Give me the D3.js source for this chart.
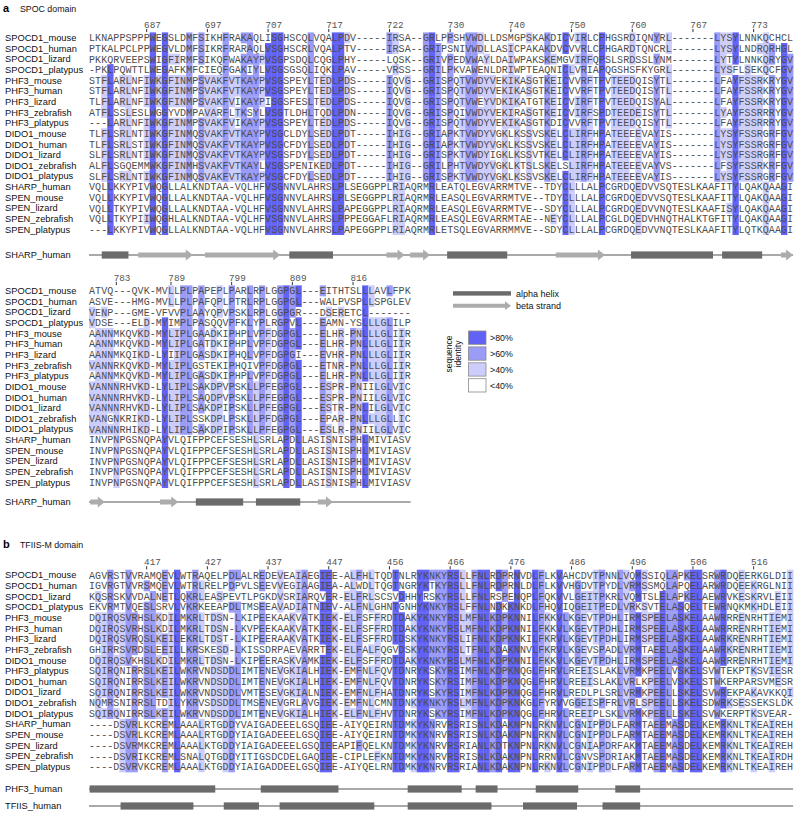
<!DOCTYPE html>
<html><head><meta charset="utf-8">
<script src="https://cdn.jsdelivr.net/npm/d3@7"></script>
<style>body{margin:0;background:#fff}</style>
</head><body>
<svg id="chart" width="800" height="815"></svg>
<script>
// ---------------- DATA ----------------
const namesA = ["SPOCD1_mouse","SPOCD1_human","SPOCD1_lizard","SPOCD1_platypus","PHF3_mouse","PHF3_human","PHF3_lizard","PHF3_zebrafish","PHF3_platypus","DIDO1_mouse","DIDO1_human","DIDO1_lizard","DIDO1_zebrafish","DIDO1_platypus","SHARP_human","SPEN_mouse","SPEN_lizard","SPEN_zebrafish","SPEN_platypus"];
const namesB = ["SPOCD1_mouse","SPOCD1_human","SPOCD1_lizard","SPOCD1_platypus","PHF3_mouse","PHF3_human","PHF3_lizard","PHF3_zebrafish","DIDO1_mouse","PHF3_platypus","DIDO1_human","DIDO1_lizard","DIDO1_zebrafish","DIDO1_platypus","SHARP_human","SPEN_mouse","SPEN_lizard","SPEN_zebrafish","SPEN_platypus"];

const seqA1 = [
"LKNAPPSPPPWEGSLDMFSIKHFRAKAQLI"+"SGHSCQLVQALPDV-----IRSA--GRLPPSHVWDLLDSMGPS"+"KAKDICVIRLCPHGSRDIQNYRL-------LYSYLNNKQCHCL",
"PTKALPCLPPWEGVLDMFSIKRFRARAQLV"+"SGHSCRLVQALPTV-----IRSA--GRIPSNIVWDLLASICPA"+"KAKDVCVVRLCPHGARDTQNCRL-------LYSYLNDRQRHGL",
"PKKQRVEEPSWIGFIRMFSIKQFWAKAYPV"+"SGPSDQLCQGLPHY-----LQSK--GRIVPEDVWAYLDAIWPA"+"KSKEMGVIRFQPSLSRDSSLYNM-------LYTYLNNKQRYGV",
"-PKLPQWTTLWEGAFKMFCIEQFGAKIYLV"+"SGSGSQLIQKLPAV-----VRSS--GRILPKVAWENLDRIWPT"+"EAQNICLVRIAPQGSHSFKYGRL-------LYSFLSEKQCFGV",
"STFLARLNFIWKGFINMPSVAKFVTKAYPV"+"SGSPEYLTEDLPDS-----IQVG--GRISPQTVWDYVEKIKAS"+"GTKEICVVRFTPVTEEDQISYTL-------LFAYFSSRKRYGV",
"STFLARLNFIWKGFINMPSVAKFVTKAYPV"+"SGSPEYLTEDLPDS-----IQVG--GRISPQTVWDYVEKIKAS"+"GTKEICVVRFTPVTEEDQISYTL-------LFAYFSSRKRYGV",
"TLFLARLNFIWKGFINMPSVAKFVIKAYPI"+"SGSFESLTEDLPDS-----IQVG--GRISPQTVWEYVDKIKAT"+"GTKEICVIRFTPVTEEDQISYAL-------LFAYFSSRKRYGV",
"ATFLSSLESLWGGYVDMPAVARFLTKSYLV"+"SGTLDHLTQDLPDN-----IQVG--GRISPQIVWDYVEKIRAS"+"GTKEICVIRFSPDTEEDEISYTL-------LYAYFSSRRRYGV",
"---LARLNFIWKGFINMPSVAKFVIKAYPV"+"SGSPEYLTEDLPDS-----IQVG--GRISPQTVWDYVEKIKAS"+"GTKDICVVRFTPVTEEDQISYTL-------LFAYFSSRRRYGV",
"TLFLSRLNTIWKGFINMQSVAKFVTKAYPV"+"SGCLDYLSEDLPDT-----IHIG--GRIAPKTVWDYVGKLKSS"+"VSKELCLIRFHPATEEEEVAYIS-------LYSYFSSRGRFGV",
"TLFLSRLSTIWKGFINMQSVAKFVTKAYPV"+"SGCFDYLSEDLPDT-----IHIG--GRIAPKTVWDYVGKLKSS"+"VSKELCLIRFHPATEEEEVAYIS-------LYSYFSSRGRFGV",
"SLFLSRLNTIWKGFINMQSVAKFVTKAYPV"+"SGSFDYLSEDLPDT-----IHIG--GRISPKTVWDYIGKLKSS"+"VTKELCLIRFHPATEEEEVAYIS-------LYSYFSSRGRFGV",
"ALFLSGQEMMWKGFINMHSVAKFVTKAYLV"+"SGSPENIKEDLPDT-----IHIG--GRILPHTVWDYVGKLKTS"+"LSKELSLIRFHPATEEEEVAYVS-------LFSYFSSRKRFGV",
"SLFLSRLNTIWKGFINMQSVAKFVTKAYPV"+"SGCFDYLSEDLPDT-----IHIG--GRISPKTVWDYVGKLKSS"+"VSKELCLIRFHPATEEEEVAYIS-------LYSYFSSRGRFGV",
"VQLLKKYPIVWQGLLALKNDTAA-VQLHFV"+"SGNNVLAHRSLPLSEGGPPLRIAQRMRLEATQLEGVARRMTVE"+"--TDYCLLLALPCGRDQEDVVSQTESLKAAFITYLQAKQAAGI",
"VQLLKKYPIVWQGLLALKNDTAA-VQLHFV"+"SGNNVLAHRSLPLSEGGPPLRIAQRMRLEASQLEGVARRMTVE"+"--TDYCLLLALPCGRDQEDVVSQTESLKAAFITYLQAKQAAGI",
"VQLLTKYPIVWQGLLALKNDTAA-VQLHFV"+"SGNNVLAHRSLPAPEGGPPLRIAQRMRLEASQLEGVARRMTVE"+"--SDYCLLLALPCGRDQEDVVNQTESLKAAFISYLQAKQAAGI",
"VQLLTKYPIIWQGHLALKNDTAA-VQLHFV"+"SGNNVLAHRSLPPPEGGAFLRIAQRMRLEASQLEGVARRMTAE"+"--NEYCLLLALPCGLDQEDVHNQTHALKTGFITYLQAKQAAGI",
"---LKKYPIVWQGLLALKNDTAA-VQLHFV"+"SGNNVLAHRSLPAPEGGPPLRIAQRMRLETSQLEGVARRMMVE"+"--SDYCLLLALPCGRDQEDVVNQTESLKAAFITYLQTKQAAGI"
];

const seqA2 = [
"ATVQ---QVK-MVLLPLPAPEPLPARLRPL"+"GGPGL---EITHTSLLLAVLFPK",
"ASVE---HMG-MVLLPLPAFQPLPTRLRPL"+"GGPGL---WALPVSPLLSPGLEV",
"VENP---GME-VFVVPLAAYQPVPSKLRPL"+"GGPGR---DSERETCL-------",
"VDSE---ELD-MYIMPLPASQQVPFKLYPL"+"RGPVL---EAMN-YSLLLGLILP",
"AANNMKQVKD-MYLIPLGAADKIPHPLVPF"+"DGPGL---ELHR-PNLLLGLIIR",
"AANNMKQVKD-MYLIPLGATDKIPHPLVPF"+"DGPGL---ELHR-PNLLLGLIIR",
"AANNMKQIKD-LYIIPLGASDKIPHQLVPF"+"DGPGI---EVHR-PNLLLGLIIR",
"VANNRKQVKD-MYLIPLGSTEKIPHQIVPF"+"DGPGL---ETNR-PNLLLGLIIR",
"AANNMKQVKD-MYLIPLGASDKIPHPLVPF"+"DGPGL---ELHR-PNLLLGLIIR",
"VANNNRHVKD-LYLIPLSAKDPVPSKLLPF"+"EGPGL---ESPR-PNIILGLVIC",
"VANNNRHVKD-LYLIPLSAQDPVPSKLLPF"+"EGPGL---ESPR-PNIILGLVIC",
"VANNNRHVKD-LYLIPLSAKDPIPSKLLPF"+"EGPGL---ESTR-PNLILGLVIC",
"VANGNKRIKD-LYLIPLSSKDPLPSKLLPF"+"DGPGL---EPAR-PNLLLGLLIC",
"VANNNRHIKD-LYLIPLSAKDPIPSKLLPF"+"EGPGL---ESLR-PNIILGLVIC",
"INVPNPGSNQPAYVLQIFPPCEFSESHLSRLAPDLLASISNISPHLMIVIASV",
"INVPNPGSNQPAYVLQIFPPCEFSESHLSRLAPDLLASISNISPHLMIVIASV",
"INVPNPGSNQPAYVLQIFPPCEFSESHLSRLAPDLLASISNISPHLMIVIASV",
"INVPNPGSNQPAYVLQIFPPCEFSESHLSRLAPDLLASISNISPHLMIVIASV",
"INVPNPGSNQPAYVLQIFPPCEFSESHLSRLAPDLLASISNISPHLMIVIASV"
];

const seqB = [
"AGVRSTVVRAMQEVLWTRAQELPDLALRED"+"EVEAIAEGIEE-ALFHLTQDTNLRYKNKYRSLLFNLRDPRNVD"+"LFLKVAHCDVTPNNLVQMSSIQLAPKELSRWRDQEERKGLDII",
"IGVRGTVVRSMQEVLWTRLRELPDPVLSEE"+"VVEGIAAGIEA-ALWDLTQGTNGRYKTKYRSLLFNLRDPRNLD"+"LFLKVVHGDVTPYDLVRMSSMQLAPQELARWRDQEEKRGLNII",
"KQSRSKVVDALNETLQKRLEASPEVTLPGK"+"DVSRIARQVER-ELFRLSCSVDHHYRSKYRSLLFNLRSPENQP"+"LFQKVVLGEITPKRLVQMTSLELAPKELAEWRVKESKRVLEII",
"EKVRMTVQESLSRVLVKRKEEAPDLTMSEE"+"AVADIATNIEV-ALFNLGHNTGNHYKNKYRSLFFNLNDKKNKD"+"LFHQVIQGEITPEDLVRKSVTELASQELTEWRNQKMKHDLEII",
"DQIRQSVRHSLKDILMKRLTDSN-LKIPEE"+"KAAKVATKIEK-ELFSFFRDTDAKYKNKYRSLMFNLKDPKNNI"+"LFKKVLKGEVTPDHLIRMSPEELASKELAAWRRRENRHTIEMI",
"DQIRQSVRHSLKDILMKRLTDSN-LKVPEE"+"KAAKVATKIEK-ELFSFFRDTDAKYKNKYRSLMFNLKDPKNNI"+"LFKKVLKGEVTPDHLIRMSPEELASKELAAWRRRENRHTIEMI",
"DQIRQSVRQSLKEILEKRLTDST-LKIPEE"+"RAAKVATKIEK-ELFSFFRDTDSKYKNKYRSLIFNLKDPKNKI"+"LFKRVLKGEVTPDHLIRMSPEELASKELAAWRKRENRHTIEMI",
"GHIRRSVRDSLEEILLKRSKESD-LKISSD"+"RPAEVARRTEK-ELFALFQGVDSKYKNKYRSLTFNLKDAKNNV"+"LFKRVLKGEVSPADLVRMTAEELASKELAAWRKRENRHTIEMI",
"DQIRQSVKHSLKDILMKRLTDSN-LKIPEE"+"RASKVAMKIEK-ELFSFFRDTDAKYKNKYRSLMFNLKDPKNNI"+"LFKKVLKGEVTPDHLIRMSPEELASKELAAWRRRENRHTIEMI",
"SQIRQNIRRSLKEILWKRVNDSDDLIMTENEVGKIALHIEK-EMFNLFQVTDNRYKSKYRSIMFNLKDPKNQGLFHRVLREEISLAKLVRMKPEELVSKELSVWTEKPTKSVIESR",
"SQIRQNIRRSLKEILWKRVNDSDDLIMTENEVGKIALHIEK-EMFNLFQVTDNRYKSKYRSIMFNLKDPKNQGLFHRVLREEISLAKLVRLKPEELVSKELSTWKERPARSVMESR",
"SQIRQNIRRSLKEILWKRVNDSDDLVMTESEVGKIALNIEK-EMFNLFHATDNRYKSKYRSIMFNLKDPKNQGLFHRVLREDLPLSRLVRMKPEELLSKELSVWREKPAKAVKKQI",
"NQMRSNIRRSLTDILYKRVSDSDDLTMSENEVGRLAVGIEK-EMFNLCMNTDNKYKNKYRSLMFNLKDPKNKGLFYRVVGGEISPFRLVRLSPEELLSKELSDWRKSESSEKSLDK",
"SQIRQNIRRSLKEILWKRVNDSDDLIMTENEVGKIALHIEK-ELFNLFHVTDNRYKSKYRSIMFNLKDPKNQGLFHRVLREEIPLSKLVRMKPEELLSKELSVWKERPTKSVEAR-",
"----DSVRLKCREMLAAALRTGDDYVAIGADEEELGSQIEE-AIYQEIRNTDMKYKNRVRSRISNLKDAKNPNLRKNVLCGNIPPDLFARMTAEEMASDELKEMRKNLTKEAIREH",
"----DSVRLKCREMLAAALRTGDDYIAIGADEEELGSQIEE-AIYQEIRNTDMKYKNRVRSRISNLKDAKNPNLRKNVLCGNIPPDLFARMTAEEMASDELKEMRKNLTKEAIREH",
"----DSVRMKCREMLAAALKTGDDYIAIGADEEELGSQIEEAPIFQELKNTDMKYKNRVRSRIANLKDTKNPNLRKNVLCGNIAPDRFAKMTAEEMASDELKEMRKNLTKEAIREH",
"----DSVRIKCREMLSNALQTGDDYITIGSDCDELGAQIEE-CIPLEFKNTDMKYKNRVRSRISNLKDAKNPNLRRNVLCGNVSPDRIAKMTAEEMASDELKEMRKNLTKEAIRDH",
"----DSVRVKCREMLAAALKTGDDYIAIGADDEELGSQIEE-AIYQELRNTDMKYKNRVRSRIANLKDAKNPNLRKNVLCGNIPPDLFARMTAEEMASDELKEMRKNLTKEAIREH"
];

const ticksA1 = ["687","697","707","717","722","730","740","750","760","767","773"];
const tickColsA1 = [9,19,29,39,49,59,69,79,89,99,109];
const ticksA2 = ["783","789","799","809","816"];
const tickColsA2 = [4,13,23,33,43];
const ticksB = ["417","427","437","447","456","466","476","486","496","506","516"];
const tickColsB = [9,19,29,39,49,59,69,79,89,99,109];

// secondary structure: [start column, end column, type] H = alpha helix, E = beta strand
const ssA1 = [[2.1,6.5,"H"],[8.1,17.1,"E"],[19.1,31.5,"E"],[33,40.2,"H"],[49,52,"E"],[52.9,56.2,"E"],[59,68.9,"H"],[76.9,85,"E"],[89.3,102.8,"H"],[104.3,110.9,"H"],[114,116,"E"]];
const ssA2 = [[0.2,2.6,"E"],[11.7,14.7,"E"],[17.6,25.4,"H"],[27.5,34.8,"H"],[37.7,40.2,"E"]];
const ssB_PHF3 = [[0.1,20.8,"H"],[28.3,41.1,"H"],[52.5,61.4,"H"],[63.7,67.3,"H"],[73.6,80.6,"H"],[86.7,90.8,"H"]];
const ssB_TFIIS = [[5.2,17.2,"H"],[22.2,28,"H"],[31.4,47,"H"],[52.5,66.3,"H"],[71.5,80.4,"H"],[84.6,90.8,"H"]];

const identityLabels = [">80%",">60%",">40%","<40%"];
const identityColors = ["#6262f6","#9b9bf8","#cdcdfb","#ffffff"];

// ---------------- DRAW ----------------
const svg = d3.select("#chart");
const cw = 6.07, x0 = 89, pitch = 10.65;
const x = d3.scaleLinear().domain([0,116]).range([x0, x0 + 116*cw]);
const level = p => p > 80 ? 0 : p > 60 ? 1 : p > 40 ? 2 : 3;

function identity(seqs){
  const N = seqs.length, L = d3.max(seqs, s => s.length);
  const out = [];
  for (let c = 0; c < L; c++){
    const counts = d3.rollup(seqs.map(s => s[c]).filter(ch => ch && ch !== "-"), v => v.length, d => d);
    const m = d3.max(Array.from(counts.values())) || 0;
    out.push({counts, m, lev: level(100*m/N)});
  }
  return out;
}

function drawBlock(names, seqs, y0, ticks, tickCols){
  const g = svg.append("g");
  const cols = identity(seqs);
  const yc = i => y0 + i*pitch;
  // tick labels
  ticks.forEach((t,i)=>{
    const cx = x(tickCols[i]+0.5);
    g.append("text").attr("x", cx-2.6).attr("y", y0-9.6).text(t)
      .attr("font-family","Liberation Mono, DejaVu Sans Mono, monospace").attr("font-size",9.3).attr("fill","#555");
    g.append("line").attr("x1",cx).attr("x2",cx).attr("y1",y0-8.8).attr("y2",y0-5.6)
      .attr("stroke","#333").attr("stroke-width",1);
  });
  seqs.forEach((s,r)=>{
    g.append("text").attr("x",5).attr("y",yc(r)+3.3).text(names[r])
      .attr("font-family","Liberation Sans, Arial, sans-serif").attr("font-size",9.3).attr("fill","#111");
    const chars = Array.from(s);
    chars.forEach((ch,c)=>{
      if (ch === "-") return;
      const col = cols[c];
      if (col.counts.get(ch) === col.m && col.lev < 3){
        g.append("rect").attr("x",x(c)).attr("y",yc(r)-pitch/2).attr("width",cw+0.3).attr("height",pitch+0.3)
          .attr("fill",identityColors[col.lev]);
      }
    });
    g.append("g").selectAll("text").data(chars).join("text")
      .attr("x",(d,c)=>x(c+0.5)).attr("y",yc(r)+3.5).attr("text-anchor","middle")
      .attr("font-family","Liberation Mono, DejaVu Sans Mono, monospace").attr("font-size",10)
      .attr("fill","#4d4d4d").text(d=>d);
  });
}

function drawSS(label, ss, y, ncol){
  const g = svg.append("g");
  g.append("text").attr("x",5).attr("y",y+3.3).text(label)
    .attr("font-family","Liberation Sans, Arial, sans-serif").attr("font-size",9.3).attr("fill","#111");
  g.append("line").attr("x1",x(0)).attr("x2",x(ncol)).attr("y1",y).attr("y2",y).attr("stroke","#555").attr("stroke-width",1.2);
  ss.forEach(([s,e,t])=>{
    if (t === "H"){
      g.append("rect").attr("x",x(s)).attr("y",y-3.6).attr("width",x(e)-x(s)).attr("height",7.2).attr("fill","#6b6b6b");
    } else {
      const xs = x(s), xe = x(e), hb = Math.max(xs, xe-7);
      g.append("path").attr("d",`M${xs},${y-2.6}L${hb},${y-2.6}L${hb},${y-5.5}L${xe},${y}L${hb},${y+5.5}L${hb},${y+2.6}L${xs},${y+2.6}Z`)
        .attr("fill","#acacac");
    }
  });
}

// titles
function title(letter, txt, y){
  svg.append("text").attr("x",3).attr("y",y).text(letter).attr("font-family","Liberation Sans, Arial, sans-serif")
    .attr("font-weight","bold").attr("font-size",11);
  svg.append("text").attr("x",20).attr("y",y).text(txt).attr("font-family","Liberation Sans, Arial, sans-serif")
    .attr("font-size",8.8).attr("fill","#111");
}
title("a","SPOC domain",11.5);
title("b","TFIIS-M domain",547.5);

drawBlock(namesA, seqA1, 37.7, ticksA1, tickColsA1);
drawSS("SHARP_human", ssA1, 255, 116);
drawBlock(namesA, seqA2, 290.7, ticksA2, tickColsA2);
drawSS("SHARP_human", ssA2, 502, 53);
drawBlock(namesB, seqB, 575, ticksB, tickColsB);
drawSS("PHF3_human", ssB_PHF3, 789, 116);
drawSS("TFIIS_human", ssB_TFIIS, 806, 116);

// legend
const lg = svg.append("g");
lg.append("rect").attr("x",453).attr("y",291.2).attr("width",58).attr("height",4.4).attr("fill","#6b6b6b");
lg.append("text").attr("x",516).attr("y",296.5).text("alpha helix").attr("font-family","Liberation Sans, Arial, sans-serif").attr("font-size",9).attr("fill","#111");
lg.append("path").attr("d","M453,303.7L505,303.7L505,301.3L511,305.7L505,310.1L505,307.7L453,307.7Z").attr("fill","#acacac");
lg.append("text").attr("x",516).attr("y",309).text("beta strand").attr("font-family","Liberation Sans, Arial, sans-serif").attr("font-size",9).attr("fill","#111");
identityLabels.forEach((t,i)=>{
  lg.append("rect").attr("x",468.5).attr("y",331+i*15.9).attr("width",17.5).attr("height",13.3)
    .attr("fill",identityColors[i]).attr("stroke","#8a8a8a").attr("stroke-width",0.8);
  lg.append("text").attr("x",490).attr("y",331+i*15.9+10.3).text(t).attr("font-family","Liberation Sans, Arial, sans-serif").attr("font-size",8.8).attr("fill","#111");
});
lg.append("text").attr("transform","translate(452,354) rotate(-90)").attr("text-anchor","middle").text("sequence")
  .attr("font-family","Liberation Sans, Arial, sans-serif").attr("font-size",8.5).attr("fill","#111");
lg.append("text").attr("transform","translate(461,354) rotate(-90)").attr("text-anchor","middle").text("identity")
  .attr("font-family","Liberation Sans, Arial, sans-serif").attr("font-size",8.5).attr("fill","#111");
</script>
</body></html>
